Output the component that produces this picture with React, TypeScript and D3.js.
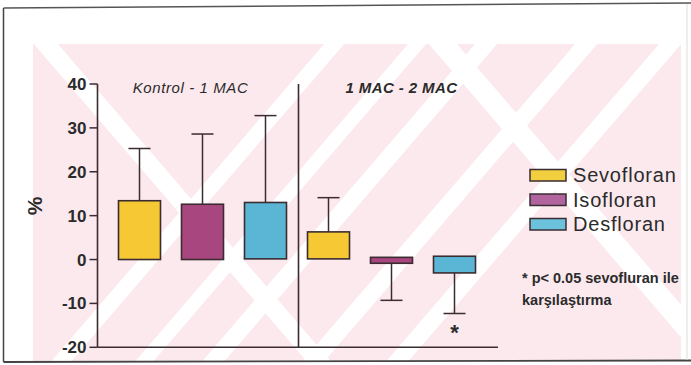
import React from "react";
import * as d3 from "d3";

const groups = ["Kontrol - 1 MAC", "1 MAC - 2 MAC"];
const series = ["Sevofloran", "Isofloran", "Desfloran"];
// one entry per bar: group-major order (group 1: S, I, D; group 2: S, I, D)
const barBase = [0, 0, 0.15, 0.15, 0.5, 0.75];
const barMean = [13.4, 12.6, 13.0, 6.3, -0.85, -3.05];
const errorEnd = [25.3, 28.6, 32.8, 14.1, -9.3, -12.3];
const significant = [false, false, false, false, false, true];
const yTicks = [40, 30, 20, 10, 0, -10, -20];
const footnote = ["* p< 0.05 sevofluran ile", "karşılaştırma"];

const barColors = ["#f5c834", "#a8477f", "#5bb6d5"];
const legendColors = ["#f1cf3f", "#b1649d", "#6cc1dc"];
const ink = "#3a2c30";
const textInk = "#2b2b2b";
const FONT = "'Liberation Sans', Arial, sans-serif";

const W = 691;
const H = 365;

export default function App() {
  const y = d3.scaleLinear().domain([-20, 40]).range([347.3, 84]);
  const idx = d3.range(barMean.length);
  const x = d3.scaleBand<number>().domain(idx).range([108, 486]).padding(0);
  const step = x.step();
  const bw = (step * 2) / 3;
  const capW = 22;
  const axisX = 97.5;
  const dividerX = 298.5;

  // watermark stripes: "/" lines x + k*y = c, "\" lines x - k*y = c
  const k = 0.86;
  const slash = [
    { c: 372, w: 20 },
    { c: 455, w: 18 },
    { c: 524, w: 22 },
    { c: 624, w: 22 },
    { c: 708, w: 22 },
  ];
  const back = [
    { c: 8, w: 24 },
    { c: 405, w: 28 },
  ];
  const stripe = (c: number, w: number, dir: number) => {
    const y0 = 0, y1 = H;
    const xa = (cc: number, yy: number) => (dir > 0 ? cc - k * yy : cc + k * yy);
    return `M${xa(c - w / 2, y0)},${y0}L${xa(c + w / 2, y0)},${y0}L${xa(c + w / 2, y1)},${y1}L${xa(c - w / 2, y1)},${y1}Z`;
  };

  return (
    <svg width={W} height={H} style={{ position: "absolute", left: 0, top: 0, background: "#fff" }}>
      <defs>
        <clipPath id="wm">
          <rect x={33} y={44} width={648} height={317} />
        </clipPath>
      </defs>
      <g clipPath="url(#wm)">
        <rect x={33} y={44} width={648} height={317} fill="#fce9ee" />
        {slash.map((s, i) => (
          <path key={"s" + i} d={stripe(s.c, s.w, 1)} fill="#ffffff" />
        ))}
        {back.map((s, i) => (
          <path key={"b" + i} d={stripe(s.c, s.w, -1)} fill="#ffffff" />
        ))}
      </g>

      {/* scan frame */}
      <line x1={3.5} y1={8} x2={691} y2={3} stroke="#555" strokeWidth={1.5} />
      <line x1={3.5} y1={8} x2={3.5} y2={362} stroke="#444" strokeWidth={1.5} />
      <line x1={3.5} y1={362} x2={691} y2={360.5} stroke="#444" strokeWidth={1.8} />
      <line x1={687} y1={4} x2={687} y2={360} stroke="#ddd" strokeWidth={1} />

      {/* error whiskers */}
      {idx.map((i) => {
        const cx = x(i)! + step / 2;
        return (
          <g key={"e" + i} stroke={ink} strokeWidth={1.5}>
            <line x1={cx} x2={cx} y1={y(barMean[i])} y2={y(errorEnd[i])} />
            <line x1={cx - capW / 2} x2={cx + capW / 2} y1={y(errorEnd[i])} y2={y(errorEnd[i])} />
          </g>
        );
      })}

      {/* bars */}
      {idx.map((i) => {
        const x0 = x(i)! + (step - bw) / 2;
        const yA = y(Math.max(barBase[i], barMean[i]));
        const yB = y(Math.min(barBase[i], barMean[i]));
        return (
          <rect
            key={"r" + i}
            x={x0}
            y={yA}
            width={bw}
            height={yB - yA}
            fill={barColors[i % 3]}
            stroke={ink}
            strokeWidth={1.6}
          />
        );
      })}

      {/* significance marks */}
      {idx.filter((i) => significant[i]).map((i) => (
        <text
          key={"sig" + i}
          x={x(i)! + step / 2}
          y={y(errorEnd[i]) + 26}
          textAnchor="middle"
          fontFamily={FONT}
          fontWeight="bold"
          fontSize={22}
          fill={textInk}
        >
          *
        </text>
      ))}

      {/* y axis */}
      <line x1={axisX} x2={axisX} y1={y(40)} y2={y(-20)} stroke={ink} strokeWidth={1.6} />
      {yTicks.map((t) => (
        <g key={"t" + t}>
          <line x1={axisX - 8} x2={axisX} y1={y(t)} y2={y(t)} stroke={ink} strokeWidth={1.5} />
          <text
            x={axisX - 11}
            y={y(t) + 6}
            textAnchor="end"
            fontFamily={FONT}
            fontWeight="bold"
            fontSize={17}
            fill={textInk}
          >
            {t}
          </text>
        </g>
      ))}
      {/* x axis */}
      <line x1={axisX} x2={498} y1={y(-20)} y2={y(-20)} stroke={ink} strokeWidth={1.6} />
      {/* group divider */}
      <line x1={dividerX} x2={dividerX} y1={y(40)} y2={y(-20)} stroke={ink} strokeWidth={1.6} />

      {/* y label */}
      <text
        transform={`translate(42,206) rotate(-90)`}
        textAnchor="middle"
        fontFamily={FONT}
        fontWeight="bold"
        fontSize={21}
        fill={textInk}
      >
        %
      </text>

      {/* group titles */}
      {groups.map((g, gi) => (
        <text
          key={g}
          x={gi === 0 ? 190.5 : 401.5}
          y={93}
          textAnchor="middle"
          fontFamily={FONT}
          fontStyle="italic"
          fontWeight={gi === 0 ? "normal" : "bold"}
          fontSize={15}
          letterSpacing={gi === 0 ? 0.6 : 0.4}
          fill={textInk}
        >
          {g}
        </text>
      ))}

      {/* legend */}
      {series.map((s, i) => {
        const base = 182 + i * 24.5;
        return (
          <g key={s}>
            <rect x={530} y={base - 12.5} width={36} height={11.5} fill={legendColors[i]} stroke={ink} strokeWidth={1.5} />
            <text x={573} y={base} fontFamily={FONT} fontSize={20} letterSpacing={0.8} fill={textInk}>
              {s}
            </text>
          </g>
        );
      })}

      {/* footnote */}
      {footnote.map((f, i) => (
        <text
          key={f}
          x={522}
          y={283 + i * 21.5}
          fontFamily={FONT}
          fontWeight="bold"
          fontSize={14.5}
          fill={textInk}
        >
          {f}
        </text>
      ))}
    </svg>
  );
}
